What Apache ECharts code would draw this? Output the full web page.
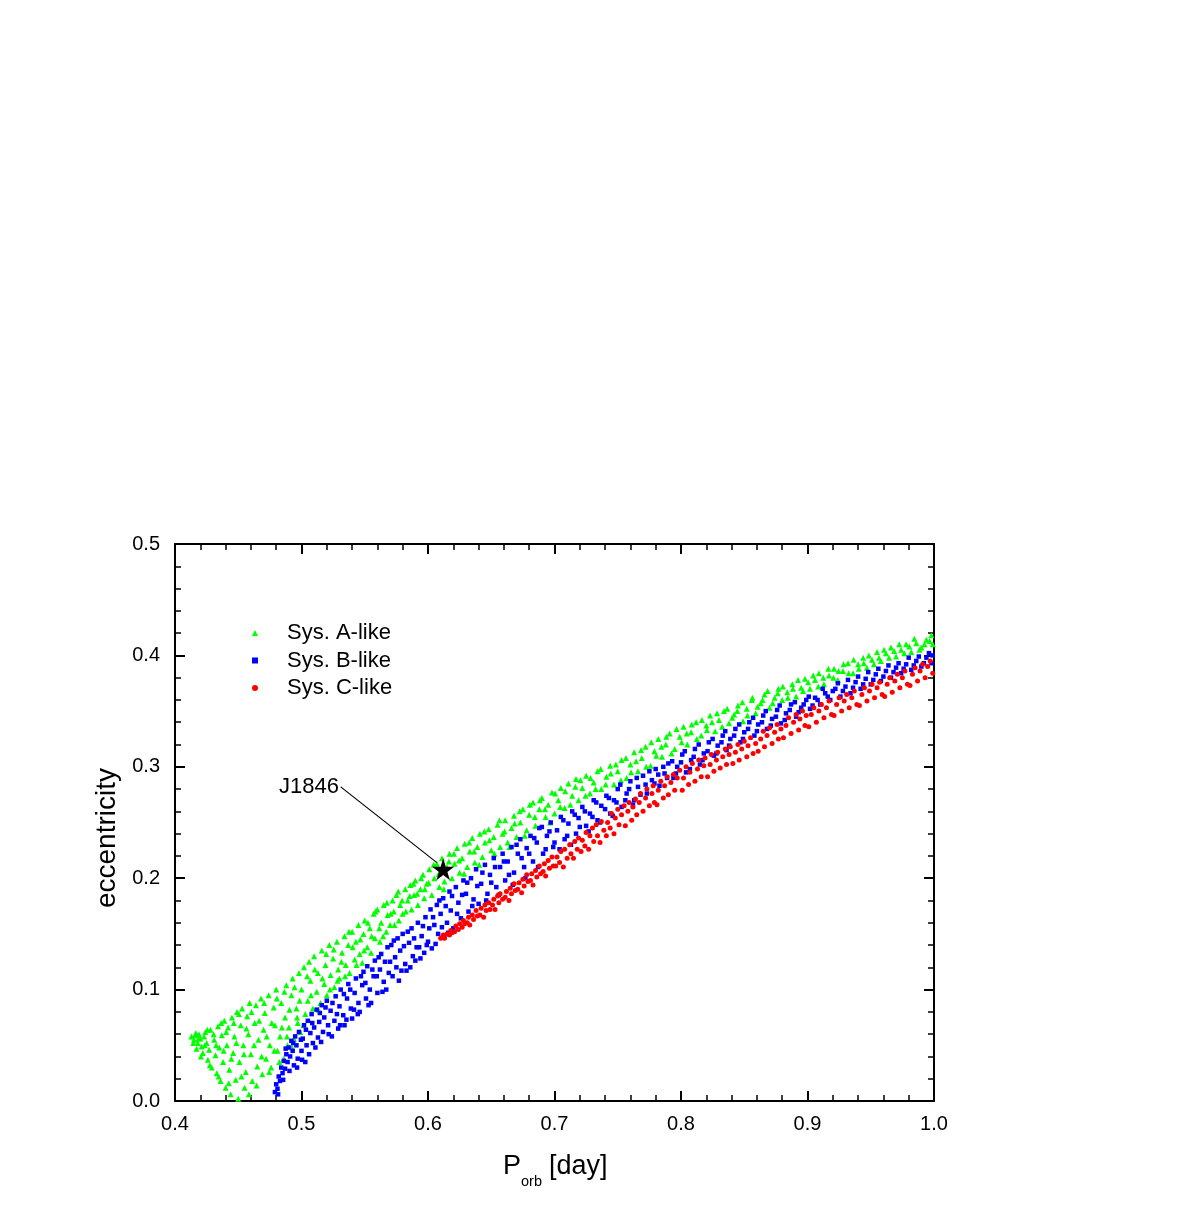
<!DOCTYPE html>
<html>
<head>
<meta charset="utf-8">
<script src="https://cdn.jsdelivr.net/npm/echarts@6/dist/echarts.min.js"></script>
<style>
html,body{margin:0;padding:0;background:#fff;}
#chart{width:1196px;height:1221px;}
</style>
</head>
<body>
<div id="chart"></div>
<script>
// ---- Data ----
const seriesNames = ['Sys. A-like', 'Sys. B-like', 'Sys. C-like'];

const sysA = [
[0.413,0.058],[0.415,0.055],[0.416,0.059],[0.418,0.052],[0.417,0.047],[0.419,0.06],[0.42,0.056],[0.421,0.049],[0.422,0.043],[0.423,0.058],[0.424,0.062],[0.425,0.052],[0.426,0.037],[0.427,0.046],
[0.428,0.064],[0.429,0.03],[0.431,0.055],[0.432,0.041],[0.433,0.025],[0.434,0.067],[0.435,0.048],[0.436,0.018],[0.437,0.059],[0.438,0.035],
[0.439,0.072],[0.44,0.012],[0.441,0.05],[0.442,0.066],[0.443,0.028],[0.444,0.006],[0.445,0.075],[0.446,0.043],[0.447,0.058],[0.448,0.019],[0.449,0.08],
[0.45,0.002],[0.451,0.035],[0.452,0.068],[0.453,0.083],[0.454,0.05],[0.455,0.012],[0.456,0.026],[0.457,0.076],[0.458,0.06],[0.459,0.088],
[0.46,0.042],[0.461,0.018],[0.463,0.07],[0.464,0.086],[0.465,0.031],[0.466,0.055],[0.468,0.092],[0.469,0.024],
[0.47,0.064],[0.471,0.079],[0.472,0.038],[0.474,0.095],[0.475,0.05],[0.476,0.03],[0.478,0.084],[0.479,0.068],
[0.48,0.1],[0.481,0.045],[0.483,0.058],[0.484,0.088],[0.486,0.038],[0.487,0.075],[0.488,0.104],[0.489,0.05],
[0.49,0.066],[0.492,0.095],[0.493,0.11],[0.494,0.056],[0.496,0.083],[0.497,0.07],[0.498,0.115],[0.499,0.062],
[0.5,0.1],[0.502,0.12],[0.503,0.078],[0.505,0.09],[0.506,0.125],[0.507,0.108],[0.509,0.083],
[0.51,0.13],[0.512,0.098],[0.513,0.115],[0.515,0.088],[0.516,0.135],[0.518,0.105],[0.519,0.122],
[0.52,0.095],[0.522,0.14],[0.523,0.113],[0.525,0.128],[0.526,0.102],[0.528,0.143],[0.529,0.118],
[0.53,0.11],[0.532,0.133],[0.534,0.148],[0.535,0.122],[0.537,0.14],[0.538,0.115],
[0.54,0.152],[0.542,0.127],[0.543,0.143],[0.545,0.158],[0.546,0.132],[0.548,0.124],[0.549,0.15],
[0.55,0.162],[0.552,0.138],[0.554,0.155],[0.555,0.133],[0.557,0.168],[0.558,0.146],
[0.56,0.172],[0.562,0.143],[0.563,0.16],[0.565,0.176],[0.567,0.152],[0.568,0.167],
[0.57,0.158],[0.572,0.18],[0.573,0.17],[0.575,0.185],[0.577,0.162],[0.578,0.176],
[0.58,0.168],[0.582,0.19],[0.584,0.18],[0.586,0.194],[0.587,0.172],[0.589,0.185],
[0.59,0.198],[0.592,0.176],[0.594,0.19],[0.596,0.203],[0.597,0.182],[0.599,0.195],
[0.601,0.208],[0.603,0.185],[0.605,0.2],[0.607,0.213],[0.609,0.192],[0.611,0.218],[0.613,0.197],[0.615,0.21],[0.617,0.222],[0.619,0.2],
[0.621,0.213],[0.623,0.227],[0.625,0.205],[0.627,0.218],[0.629,0.231],[0.631,0.21],[0.633,0.224],[0.635,0.236],[0.637,0.214],[0.639,0.228],
[0.641,0.24],[0.643,0.219],[0.645,0.232],[0.648,0.244],[0.65,0.225],[0.652,0.237],[0.655,0.248],[0.657,0.228],[0.659,0.24],
[0.661,0.252],[0.663,0.232],[0.666,0.245],[0.668,0.256],[0.67,0.237],[0.673,0.25],[0.675,0.262],[0.678,0.243],
[0.68,0.257],[0.683,0.268],[0.685,0.247],[0.688,0.262],[0.69,0.272],[0.693,0.255],[0.695,0.266],[0.698,0.277],
[0.7,0.258],[0.703,0.27],[0.705,0.281],[0.708,0.263],[0.711,0.285],[0.714,0.274],[0.717,0.289],[0.719,0.27],
[0.722,0.281],[0.725,0.292],[0.728,0.276],[0.731,0.286],[0.734,0.296],[0.737,0.28],
[0.741,0.291],[0.744,0.301],[0.747,0.284],[0.75,0.296],[0.753,0.306],[0.757,0.29],
[0.76,0.302],[0.763,0.313],[0.766,0.296],[0.769,0.308],[0.772,0.318],[0.776,0.301],
[0.779,0.314],[0.782,0.325],[0.785,0.309],[0.788,0.32],[0.791,0.33],[0.795,0.316],
[0.799,0.327],[0.802,0.336],[0.805,0.32],[0.808,0.331],[0.812,0.34],[0.816,0.328],
[0.82,0.337],[0.823,0.346],[0.827,0.332],[0.83,0.342],[0.834,0.35],[0.838,0.339],
[0.842,0.347],[0.845,0.355],[0.849,0.341],[0.852,0.352],[0.856,0.36],[0.859,0.348],
[0.863,0.357],[0.866,0.365],[0.87,0.353],[0.874,0.362],[0.877,0.37],[0.88,0.36],
[0.884,0.367],[0.888,0.374],[0.891,0.363],[0.895,0.371],[0.898,0.379],
[0.902,0.37],[0.906,0.378],[0.909,0.384],[0.913,0.374],[0.917,0.382],
[0.921,0.388],[0.924,0.378],[0.928,0.386],[0.932,0.393],[0.936,0.384],
[0.94,0.392],[0.944,0.398],[0.947,0.389],[0.951,0.396],[0.955,0.403],
[0.958,0.395],[0.962,0.402],[0.966,0.407],[0.97,0.399],[0.974,0.405],
[0.978,0.41],[0.982,0.403],[0.986,0.411],[0.99,0.407],[0.994,0.414],[0.998,0.418],[0.999,0.41],
[0.4145,0.052],[0.4165,0.061],[0.4185,0.056],[0.4205,0.04],[0.4235,0.05],[0.4255,0.064],[0.4275,0.032],[0.4305,0.06],[0.4325,0.05],[0.4345,0.022],[0.4365,0.07],[0.4385,0.045],[0.4405,0.062],[0.4425,0.016],[0.4445,0.038],[0.4465,0.07],[0.4485,0.052],[0.4505,0.078],[0.4525,0.022],[0.4545,0.042],[0.4565,0.065],[0.4585,0.006],[0.4605,0.08],[0.4625,0.05],[0.4645,0.014],[0.4665,0.072],[0.4685,0.04],[0.4705,0.088],[0.4725,0.058],[0.4745,0.026],[0.4765,0.07],[0.4785,0.045],[0.4805,0.092],[0.4825,0.035],[0.4845,0.066],[0.4865,0.098],[0.4885,0.058],[0.4905,0.082],[0.4925,0.048],[0.4945,0.102],[0.4965,0.075],[0.4985,0.09],
[0.5015,0.068],[0.5045,0.112],[0.5075,0.095],[0.5105,0.118],[0.5135,0.082],[0.5165,0.11],[0.5195,0.132],[0.5225,0.1],[0.5255,0.136],[0.5285,0.108],[0.5315,0.125],[0.5345,0.112],[0.5375,0.152],[0.5405,0.138],[0.5435,0.122],[0.5465,0.145],[0.5495,0.135],[0.5525,0.16],[0.5555,0.148],[0.5585,0.17],[0.5615,0.155],[0.5645,0.148],[0.5675,0.178],[0.5705,0.168],[0.5735,0.158],[0.5765,0.188],[0.5795,0.18],[0.5825,0.17],[0.5855,0.184],[0.5885,0.195],[0.5915,0.186],[0.5945,0.2],[0.5975,0.19],
[0.6005,0.196],[0.6045,0.212],[0.6085,0.204],[0.6125,0.19],[0.6165,0.215],[0.6205,0.222],[0.6245,0.216],[0.6285,0.204],[0.6325,0.232],[0.6365,0.224],[0.6405,0.212],[0.6445,0.242],[0.6485,0.234],[0.6525,0.222],[0.6565,0.252],[0.6605,0.242],[0.6645,0.228],[0.6685,0.249],[0.6725,0.26],[0.6765,0.238],[0.6805,0.266],[0.6845,0.255],[0.6885,0.27],[0.6925,0.262],[0.6965,0.25],
[0.7005,0.276],[0.7045,0.264],[0.7085,0.278],[0.7125,0.266],[0.7165,0.282],[0.7205,0.288],[0.7245,0.274],[0.7285,0.29],[0.7325,0.28],[0.7365,0.298],[0.7405,0.284],[0.7445,0.294],[0.7485,0.302],[0.7525,0.288],[0.7565,0.308],[0.7605,0.295],[0.7645,0.305],[0.7685,0.315],[0.7725,0.3],[0.7765,0.322],[0.7805,0.31],[0.7845,0.318],[0.7885,0.327],[0.7925,0.312],[0.7965,0.334],
[0.8005,0.322],[0.8045,0.33],[0.8085,0.338],[0.8125,0.325],[0.8165,0.342],[0.8205,0.333],[0.8245,0.34],[0.8285,0.348],[0.8325,0.336],[0.8365,0.352],[0.8405,0.344],[0.8445,0.35],[0.8485,0.358],[0.8525,0.346],[0.8565,0.362],[0.8605,0.354],[0.8645,0.36],[0.8685,0.368],[0.8725,0.357],[0.8765,0.366],[0.8805,0.372],[0.8845,0.362],[0.8885,0.37],[0.8925,0.378],[0.8965,0.368],
[0.9005,0.376],[0.9045,0.382],[0.9085,0.372],[0.9125,0.38],[0.9165,0.388],[0.9205,0.38],[0.9245,0.386],[0.9285,0.392],[0.9325,0.384],[0.9365,0.396],[0.9405,0.388],[0.9445,0.393],[0.9485,0.4],[0.9525,0.392],[0.9565,0.398],[0.9605,0.405],[0.9645,0.398],[0.9685,0.404],[0.9725,0.41],[0.9765,0.402],[0.9805,0.408],[0.9845,0.415],[0.9885,0.405],[0.9925,0.41],[0.9965,0.413]
];

const sysB = [
[0.479,0.008],[0.48,0.015],[0.481,0.011],[0.482,0.022],[0.483,0.018],[0.484,0.03],[0.485,0.025],
[0.486,0.036],[0.487,0.029],[0.488,0.042],[0.489,0.035],[0.49,0.048],[0.491,0.04],[0.492,0.054],[0.493,0.045],[0.494,0.032],[0.495,0.058],
[0.496,0.05],[0.497,0.038],[0.498,0.062],[0.5,0.045],[0.501,0.056],[0.502,0.068],[0.503,0.035],[0.504,0.05],[0.505,0.072],[0.507,0.061],
[0.508,0.078],[0.509,0.052],[0.51,0.066],[0.512,0.082],[0.513,0.057],[0.514,0.071],[0.516,0.086],[0.517,0.062],
[0.518,0.075],[0.52,0.09],[0.521,0.068],[0.523,0.081],[0.524,0.058],[0.526,0.072],[0.527,0.094],[0.529,0.065],
[0.53,0.085],[0.531,0.1],[0.533,0.077],[0.534,0.068],[0.536,0.092],[0.537,0.105],[0.539,0.083],
[0.54,0.074],[0.542,0.097],[0.543,0.11],[0.545,0.088],[0.546,0.08],[0.548,0.104],[0.549,0.116],
[0.551,0.092],[0.552,0.121],[0.554,0.1],[0.555,0.088],[0.557,0.112],[0.558,0.126],
[0.56,0.097],[0.562,0.118],[0.563,0.132],[0.565,0.107],[0.567,0.1],[0.568,0.138],
[0.57,0.125],[0.572,0.112],[0.573,0.144],[0.575,0.12],[0.577,0.108],[0.578,0.135],
[0.58,0.15],[0.582,0.123],[0.583,0.117],[0.585,0.142],[0.587,0.155],[0.588,0.13],
[0.59,0.126],[0.592,0.16],[0.593,0.138],[0.595,0.148],[0.597,0.133],[0.598,0.165],
[0.6,0.143],[0.602,0.172],[0.603,0.137],[0.605,0.158],[0.607,0.176],[0.608,0.15],
[0.61,0.168],[0.612,0.182],[0.613,0.147],[0.615,0.16],[0.617,0.188],[0.618,0.171],[0.62,0.155],
[0.622,0.192],[0.624,0.178],[0.626,0.164],[0.628,0.198],[0.63,0.186],[0.632,0.17],[0.634,0.2],[0.636,0.181],[0.638,0.208],
[0.64,0.177],[0.642,0.195],[0.645,0.212],[0.647,0.186],[0.649,0.203],[0.652,0.218],[0.654,0.192],[0.657,0.21],[0.659,0.222],
[0.661,0.198],[0.663,0.215],[0.666,0.228],[0.668,0.205],[0.671,0.222],[0.673,0.235],[0.676,0.21],[0.678,0.227],
[0.681,0.238],[0.683,0.215],[0.686,0.232],[0.688,0.245],[0.691,0.222],[0.694,0.238],[0.697,0.25],[0.699,0.228],
[0.702,0.243],[0.705,0.255],[0.708,0.235],[0.711,0.249],[0.714,0.26],[0.717,0.24],[0.719,0.254],
[0.722,0.264],[0.725,0.247],[0.728,0.258],[0.731,0.27],[0.734,0.252],[0.737,0.265],
[0.741,0.274],[0.744,0.258],[0.747,0.27],[0.75,0.28],[0.753,0.264],[0.757,0.276],
[0.76,0.287],[0.763,0.27],[0.766,0.282],[0.77,0.292],[0.773,0.276],[0.777,0.288],
[0.78,0.298],[0.783,0.283],[0.787,0.294],[0.79,0.303],[0.794,0.29],[0.797,0.3],
[0.801,0.311],[0.804,0.295],[0.808,0.306],[0.811,0.316],[0.815,0.302],[0.818,0.312],
[0.822,0.322],[0.826,0.31],[0.829,0.319],[0.833,0.328],[0.836,0.315],[0.839,0.325],
[0.843,0.334],[0.847,0.322],[0.85,0.331],[0.854,0.34],[0.858,0.328],
[0.861,0.338],[0.865,0.346],[0.868,0.334],[0.872,0.343],[0.876,0.351],[0.879,0.339],
[0.883,0.348],[0.887,0.356],[0.891,0.345],[0.895,0.353],[0.899,0.36],
[0.902,0.352],[0.906,0.362],[0.91,0.356],[0.914,0.366],[0.918,0.36],
[0.922,0.37],[0.926,0.363],[0.93,0.372],[0.934,0.366],[0.938,0.376],
[0.942,0.37],[0.946,0.379],[0.95,0.374],[0.954,0.383],[0.958,0.377],
[0.962,0.386],[0.966,0.38],[0.97,0.389],[0.974,0.384],[0.978,0.392],
[0.982,0.387],[0.986,0.395],[0.99,0.39],[0.994,0.398],[0.998,0.393],[0.999,0.4],
[0.4815,0.006],[0.4855,0.019],[0.4875,0.047],[0.4905,0.027],[0.4935,0.052],[0.4965,0.03],[0.4995,0.055],[0.5005,0.037],[0.5035,0.064],[0.506,0.042],[0.5085,0.07],[0.511,0.048],[0.5145,0.079],[0.5155,0.053],[0.519,0.084],[0.5215,0.06],[0.5245,0.088],[0.528,0.078],[0.5305,0.068],[0.5335,0.096],[0.5355,0.073],[0.5385,0.1],[0.5415,0.082],[0.5445,0.078],[0.547,0.112],[0.5505,0.106],[0.553,0.086],[0.556,0.118],[0.5595,0.112],[0.561,0.129],[0.564,0.098],[0.566,0.125],[0.569,0.115],[0.571,0.14],[0.574,0.129],[0.576,0.146],[0.579,0.117],[0.581,0.139],[0.584,0.152],[0.586,0.12],[0.589,0.146],[0.591,0.138],[0.594,0.128],[0.596,0.157],[0.599,0.14],
[0.601,0.155],[0.604,0.165],[0.606,0.141],[0.609,0.18],[0.611,0.156],[0.614,0.175],[0.616,0.151],[0.619,0.184],[0.623,0.168],[0.627,0.185],[0.631,0.196],[0.635,0.175],[0.639,0.193],[0.643,0.205],[0.646,0.18],[0.65,0.196],[0.653,0.21],[0.656,0.185],[0.66,0.215],[0.664,0.203],[0.667,0.194],[0.67,0.23],[0.674,0.218],[0.677,0.2],[0.68,0.222],[0.684,0.236],[0.687,0.21],[0.69,0.246],[0.693,0.226],[0.696,0.242],
[0.7,0.232],[0.704,0.226],[0.707,0.252],[0.71,0.238],[0.713,0.23],[0.716,0.257],[0.72,0.246],[0.724,0.26],[0.727,0.242],[0.73,0.255],[0.733,0.268],[0.736,0.25],[0.74,0.262],[0.743,0.272],[0.746,0.256],[0.749,0.268],[0.752,0.284],[0.756,0.27],[0.759,0.28],[0.762,0.266],[0.765,0.29],[0.768,0.275],[0.772,0.284],[0.775,0.296],[0.779,0.285],[0.782,0.293],[0.786,0.3],[0.789,0.29],[0.793,0.305],[0.796,0.294],
[0.8,0.304],[0.803,0.314],[0.807,0.298],[0.81,0.309],[0.814,0.32],[0.817,0.306],[0.821,0.314],[0.825,0.325],[0.828,0.312],[0.832,0.322],[0.835,0.332],[0.838,0.319],[0.842,0.328],[0.846,0.338],[0.849,0.325],[0.853,0.334],[0.857,0.344],[0.86,0.332],[0.864,0.34],[0.867,0.35],[0.871,0.337],[0.875,0.345],[0.878,0.355],[0.882,0.342],[0.886,0.351],[0.89,0.358],[0.893,0.349],[0.897,0.356],
[0.901,0.363],[0.904,0.355],[0.908,0.36],[0.912,0.37],[0.916,0.363],[0.92,0.368],[0.924,0.375],[0.928,0.368],[0.932,0.378],[0.936,0.371],[0.94,0.381],[0.944,0.374],[0.948,0.385],[0.952,0.378],[0.956,0.388],[0.96,0.381],[0.964,0.391],[0.968,0.385],[0.972,0.393],[0.976,0.388],[0.98,0.398],[0.984,0.391],[0.988,0.399],[0.992,0.393],[0.996,0.402]
];

const sysC = [
[0.61,0.146],[0.612,0.149],[0.613,0.146],[0.615,0.15],[0.617,0.149],[0.618,0.153],[0.619,0.151],
[0.621,0.152],[0.622,0.157],[0.624,0.154],[0.625,0.159],[0.627,0.156],[0.628,0.162],[0.629,0.159],
[0.631,0.16],[0.632,0.165],[0.633,0.158],[0.635,0.167],[0.636,0.163],[0.638,0.171],[0.639,0.166],
[0.641,0.167],[0.642,0.173],[0.644,0.165],[0.645,0.176],[0.646,0.171],[0.648,0.178],[0.649,0.172],
[0.651,0.176],[0.652,0.181],[0.653,0.172],[0.655,0.184],[0.656,0.178],[0.657,0.186],[0.659,0.181],
[0.661,0.183],[0.662,0.188],[0.664,0.18],[0.665,0.191],[0.666,0.186],[0.668,0.195],[0.669,0.189],
[0.671,0.19],[0.672,0.196],[0.674,0.187],[0.675,0.199],[0.676,0.193],[0.678,0.203],[0.679,0.197],
[0.681,0.198],[0.682,0.204],[0.683,0.194],[0.685,0.207],[0.686,0.201],[0.688,0.211],[0.689,0.204],
[0.691,0.206],[0.692,0.213],[0.693,0.202],[0.695,0.216],[0.696,0.209],[0.698,0.219],[0.699,0.211],
[0.701,0.211],[0.702,0.219],[0.704,0.214],[0.705,0.224],[0.707,0.21],[0.708,0.226],[0.71,0.218],[0.712,0.23],[0.713,0.222],[0.715,0.218],[0.716,0.233],[0.718,0.226],[0.719,0.236],
[0.721,0.224],[0.722,0.234],[0.724,0.229],[0.725,0.241],[0.727,0.226],[0.728,0.238],[0.73,0.245],[0.731,0.233],[0.733,0.248],[0.734,0.238],[0.736,0.232],[0.737,0.251],[0.739,0.243],
[0.741,0.238],[0.742,0.25],[0.744,0.245],[0.745,0.258],[0.747,0.24],[0.748,0.254],[0.75,0.262],[0.751,0.248],[0.753,0.257],[0.755,0.265],[0.756,0.247],[0.758,0.26],[0.759,0.268],
[0.761,0.252],[0.762,0.264],[0.764,0.271],[0.765,0.257],[0.767,0.268],[0.768,0.276],[0.77,0.26],[0.772,0.272],[0.773,0.28],[0.775,0.265],[0.777,0.276],[0.778,0.283],[0.779,0.268],
[0.781,0.266],[0.782,0.279],[0.784,0.287],[0.786,0.272],[0.787,0.283],[0.789,0.291],[0.79,0.275],[0.792,0.286],[0.794,0.293],[0.795,0.279],[0.797,0.29],[0.799,0.297],
[0.801,0.279],[0.802,0.29],[0.804,0.3],[0.806,0.284],[0.807,0.295],[0.809,0.303],[0.811,0.287],[0.813,0.298],[0.814,0.306],[0.816,0.291],[0.818,0.301],[0.819,0.308],
[0.821,0.291],[0.823,0.302],[0.824,0.311],[0.826,0.296],[0.828,0.306],[0.829,0.313],[0.831,0.299],[0.833,0.309],[0.835,0.316],[0.836,0.302],[0.838,0.311],[0.839,0.318],
[0.841,0.303],[0.843,0.313],[0.845,0.32],[0.846,0.306],[0.848,0.316],[0.85,0.323],[0.852,0.309],[0.853,0.319],[0.855,0.326],[0.857,0.312],[0.859,0.321],
[0.861,0.314],[0.863,0.325],[0.865,0.332],[0.866,0.318],[0.868,0.328],[0.87,0.335],[0.872,0.321],[0.874,0.331],[0.876,0.338],[0.877,0.325],[0.879,0.334],
[0.881,0.326],[0.883,0.337],[0.885,0.344],[0.887,0.33],[0.889,0.34],[0.891,0.347],[0.893,0.333],[0.894,0.343],[0.896,0.35],[0.898,0.337],[0.899,0.346],
[0.901,0.336],[0.903,0.347],[0.905,0.353],[0.907,0.34],[0.909,0.35],[0.911,0.356],[0.913,0.344],[0.915,0.353],[0.917,0.359],[0.919,0.347],
[0.921,0.346],[0.923,0.356],[0.925,0.362],[0.927,0.35],[0.929,0.359],[0.931,0.365],[0.933,0.353],[0.935,0.362],[0.937,0.368],[0.939,0.356],
[0.941,0.355],[0.943,0.365],[0.945,0.371],[0.947,0.359],[0.949,0.368],[0.951,0.374],[0.953,0.362],[0.955,0.371],[0.957,0.376],[0.959,0.365],
[0.961,0.363],[0.963,0.374],[0.965,0.38],[0.967,0.367],[0.969,0.377],[0.971,0.383],[0.973,0.371],[0.975,0.38],[0.977,0.386],[0.979,0.374],
[0.981,0.373],[0.983,0.383],[0.985,0.389],[0.987,0.377],[0.989,0.386],[0.991,0.392],[0.993,0.38],[0.995,0.39],[0.997,0.395],[0.999,0.384]
];

const starPoint = [0.612, 0.208];
const starLabel = 'J1846';
const labelPoint = [0.506, 0.282];
const arrowLine = [[0.531, 0.282], [0.607, 0.214]];

const xMin = 0.4, xMax = 1.0, xStep = 0.1;
const yMin = 0.0, yMax = 0.5, yStep = 0.1;
const xTitle = ['P', 'orb', '[day]'];
const yTitle = 'eccentricity';

// ---- Chart ----
const FONT = '"Liberation Sans", Arial, sans-serif';
const chart = echarts.init(document.getElementById('chart'), null, {renderer: 'canvas'});

const axisCommon = {
  type: 'value',
  axisLine: {show: true, onZero: false, lineStyle: {color: '#000', width: 2}},
  axisTick: {show: true, inside: true, length: 10, lineStyle: {color: '#000', width: 2}},
  minorTick: {show: true, splitNumber: 5, length: 6, lineStyle: {color: '#000', width: 1.5}},
  splitLine: {show: false},
  minorSplitLine: {show: false}
};
const fmt = v => v.toFixed(1);

const STAR = 'path://M50,0 L61.2,34.5 L97.6,34.5 L68.2,55.9 L79.4,90.5 L50,69.1 L20.6,90.5 L31.8,55.9 L2.4,34.5 L38.8,34.5 Z';

chart.setOption({
  animation: false,
  backgroundColor: '#fff',
  grid: {left: 175, top: 544, width: 759, height: 557, containLabel: false},
  legend: {
    orient: 'vertical',
    left: 247,
    top: 616,
    itemWidth: 6,
    itemHeight: 6,
    itemGap: 3.5,
    selectedMode: false,
    textStyle: {fontFamily: FONT, fontSize: 22, color: '#000', padding: [0, 0, 0, 24], lineHeight: 24},
    data: [
      {name: seriesNames[0], icon: 'triangle'},
      {name: seriesNames[1], icon: 'rect'},
      {name: seriesNames[2], icon: 'circle'}
    ]
  },
  graphic: [
    {type: 'text', x: 107, y: 838, rotation: Math.PI / 2, silent: true,
     style: {text: yTitle, fontFamily: FONT, fontSize: 28, fill: '#000', align: 'center', verticalAlign: 'middle'}},
    {type: 'text', x: 503, y: 1167, silent: true,
     style: {text: xTitle[0], fontFamily: FONT, fontSize: 27, fill: '#000', align: 'left', verticalAlign: 'middle'}},
    {type: 'text', x: 521, y: 1182, silent: true,
     style: {text: xTitle[1], fontFamily: FONT, fontSize: 14.5, fill: '#000', align: 'left', verticalAlign: 'middle'}},
    {type: 'text', x: 549, y: 1167, silent: true,
     style: {text: xTitle[2], fontFamily: FONT, fontSize: 27, fill: '#000', align: 'left', verticalAlign: 'middle'}}
  ],
  xAxis: [
    Object.assign({}, axisCommon, {
      position: 'bottom', min: xMin, max: xMax, interval: xStep,
      axisLabel: {show: true, formatter: fmt, margin: 13, color: '#000', fontFamily: FONT, fontSize: 20}
    }),
    Object.assign({}, axisCommon, {
      position: 'top', min: xMin, max: xMax, interval: xStep,
      axisLabel: {show: false}
    })
  ],
  yAxis: [
    Object.assign({}, axisCommon, {
      position: 'left', min: yMin, max: yMax, interval: yStep,
      axisLabel: {show: true, formatter: fmt, margin: 15, color: '#000', fontFamily: FONT, fontSize: 20}
    }),
    Object.assign({}, axisCommon, {
      position: 'right', min: yMin, max: yMax, interval: yStep,
      axisLabel: {show: false}
    })
  ],
  series: [
    {
      name: seriesNames[0], type: 'scatter', xAxisIndex: 0, yAxisIndex: 0,
      symbol: 'triangle', symbolSize: 6, itemStyle: {color: '#00ff00', opacity: 1},
      data: sysA, silent: true
    },
    {
      name: seriesNames[1], type: 'scatter', xAxisIndex: 0, yAxisIndex: 0,
      symbol: 'rect', symbolSize: 4.5, itemStyle: {color: '#0000ff', opacity: 1},
      data: sysB, silent: true
    },
    {
      name: seriesNames[2], type: 'scatter', xAxisIndex: 0, yAxisIndex: 0,
      symbol: 'circle', symbolSize: 5, itemStyle: {color: '#ff0000', opacity: 1},
      data: sysC, silent: true
    },
    {
      name: 'arrow', type: 'line', xAxisIndex: 0, yAxisIndex: 0,
      data: arrowLine, symbol: 'none', silent: true,
      lineStyle: {color: '#000', width: 1.2, opacity: 1}, z: 5
    },
    {
      name: 'J1846', type: 'scatter', xAxisIndex: 0, yAxisIndex: 0,
      symbol: STAR, symbolSize: 22, itemStyle: {color: '#000', opacity: 1},
      data: [starPoint], silent: true, z: 6
    },
    {
      name: 'J1846label', type: 'scatter', xAxisIndex: 0, yAxisIndex: 0,
      symbol: 'circle', symbolSize: 0, silent: true,
      itemStyle: {opacity: 1},
      data: [labelPoint],
      label: {show: true, position: 'inside', formatter: starLabel, color: '#000', fontFamily: FONT, fontSize: 22}
    }
  ]
});
</script>
</body>
</html>
